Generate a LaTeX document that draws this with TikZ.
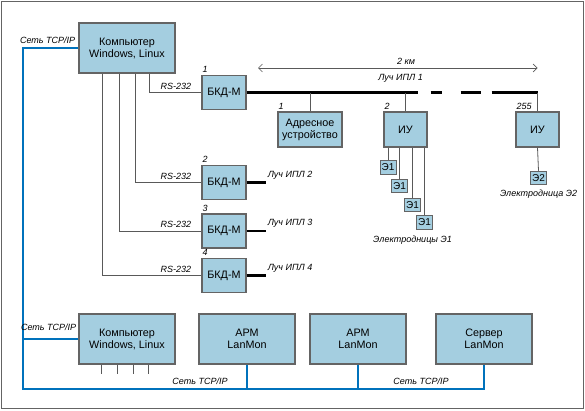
\documentclass[tikz,border=0pt]{standalone}
\usepackage{fontspec}
\setmainfont{Liberation Sans}
\usetikzlibrary{positioning,calc,arrows.meta}
\definecolor{boxfill}{RGB}{164,206,224}
\definecolor{boxline}{RGB}{100,100,100}
\definecolor{netblue}{RGB}{0,114,188}

\begin{document}
\begin{tikzpicture}[
		x=1pt, y=-1pt
		,blk/.style={draw=boxline, fill=boxfill, line width=1.2pt, inner sep=0pt, align=center, font=\fontsize{10.8}{12}\selectfont}
		,pc/.style={blk, minimum width=96pt, minimum height=50pt}
		,bkd/.style={blk, minimum width=44pt, minimum height=34pt}
		,iu/.style={blk, minimum width=43pt, minimum height=35pt}
		,el/.style={blk, line width=1pt, minimum width=16pt, minimum height=13.5pt, font=\fontsize{10}{11}\selectfont}
		,lbl/.style={font=\fontsize{9}{10}\selectfont\itshape, inner sep=1pt}
		,wire/.style={draw=gray!70!black, line width=0.8pt}
		,ipl/.style={line width=2.4pt}
		,net/.style={draw=netblue, line width=1.8pt}
	]
		\useasboundingbox (0,0) rectangle (585,410);
		\draw[boxline, line width=0.8pt] (1,1) rectangle (583,408);

		% upper part
		\node[pc] (pcA) at (127,48) {Компьютер\\Windows, Linux};
		\node[bkd] (bkdA) at (224,92.5) {БКД-М};
		\node[bkd] (bkdB) at (224,182.5) {БКД-М};
		\node[bkd] (bkdC) at (224,231) {БКД-М};
		\node[bkd] (bkdD) at (224,275.5) {БКД-М};
		\node[iu, minimum width=64pt] (adr) at (310,129.5) {Адресное\\устройство};
		\node[iu] (iuA) at (405.5,129.5) {ИУ};
		\node[iu] (iuB) at (537.5,129.5) {ИУ};
		\foreach \n/\x/\y in {a/388/167.5, b/399.5/186, c/412.5/205, d/424.5/222.5}
			\node[el] (e1\n) at (\x,\y) {Э1};
		\node[el] (e2) at (538.5,178) {Э2};

		\foreach \dx/\b in {24/bkdD, 41/bkdC, 57/bkdB, 71/bkdA} {
			\draw[wire] ([xshift=\dx]pcA.south west) |- (\b.west);
			\node[lbl, anchor=south east] at ([xshift=-9pt, yshift=2pt]\b.west) {RS-232};
		}
		\foreach \b/\t in {bkdA/1, bkdB/2, bkdC/3, bkdD/4}
			\node[lbl, anchor=south west] at ([yshift=1pt]\b.north west) {\t};
		\foreach \b/\t in {bkdB/2, bkdC/3, bkdD/4} {
			\draw[ipl] (\b.east) -- ++(19,0) coordinate (\b end);
			\node[lbl, anchor=south west] at ([xshift=1pt, yshift=2pt]\b end) {Луч ИПЛ \t};
		}

		% beam 1
		\coordinate (iplEnd) at (iuB.north |- bkdA.east);
		\draw[ipl, dash pattern=on 171pt off 13pt on 11pt off 19pt on 20pt off 11pt on 200pt] (bkdA.east) -- (iplEnd);
		\draw[wire] (iplEnd) -- (iuB.north);
		\draw[wire] (adr.north) -- (adr.north |- bkdA.east);
		\draw[wire] (iuA.north) -- (iuA.north |- bkdA.east);
		\foreach \b/\t in {adr/1, iuA/2, iuB/255}
			\node[lbl, anchor=south west] at ([yshift=1pt]\b.north west) {\t};
		\coordinate (kmL) at (258,68);
		\coordinate (kmR) at (iuB.north |- kmL);
		\draw[wire, line width=0.6pt, {Straight Barb[length=4pt]}-{Straight Barb[length=4pt]}] (kmL) -- node[lbl, pos=0.53, above=2pt] {2 км} node[lbl, pos=0.51, below=5pt] {Луч ИПЛ 1} (kmR);

		\foreach \n in {a,b,c,d}
			\draw[wire] (iuA.south -| e1\n.north) -- (e1\n.north);
		\draw[wire] (iuB.south) -- (e2.north);
		\node[lbl, anchor=north] at ([xshift=-12pt, yshift=-5pt]e1d.south) {Электродницы Э1};
		\node[lbl, anchor=north] at ([yshift=-4pt]e2.south) {Электродница Э2};

		% lower part
		\node[pc] (pcB) at (127,339) {Компьютер\\Windows, Linux};
		\node[pc] (armA) at (247,339) {АРМ\\LanMon};
		\node[pc] (armB) at (358,339) {АРМ\\LanMon};
		\node[pc] (srv) at (484,339) {Сервер\\LanMon};
		\foreach \dx in {23, 39, 55, 70}
			\draw[wire] ([xshift=\dx]pcB.south west) -- ++(0,9);

		% network
		\coordinate (netSW) at (23,389);
		\draw[net] (pcA.west) -| (netSW) -| (srv.south);
		\draw[net] (pcB.west) -- (pcB.west -| netSW);
		\draw[net] (armA.south) -- (armA.south |- netSW);
		\draw[net] (armB.south) -- (armB.south |- netSW);
		\node[lbl, anchor=south east] at ([xshift=-2pt, yshift=3pt]pcA.west) {Сеть TCP/IP};
		\node[lbl, anchor=south east] at ([xshift=-1pt, yshift=7pt]pcB.west) {Сеть TCP/IP};
		\node[lbl, anchor=south] at ([yshift=3pt]200,389) {Сеть TCP/IP};
		\node[lbl, anchor=south] at ([yshift=3pt]$(armB.south |- netSW)!0.5!(srv.south |- netSW)$) {Сеть TCP/IP};
	\end{tikzpicture}
\end{document}
